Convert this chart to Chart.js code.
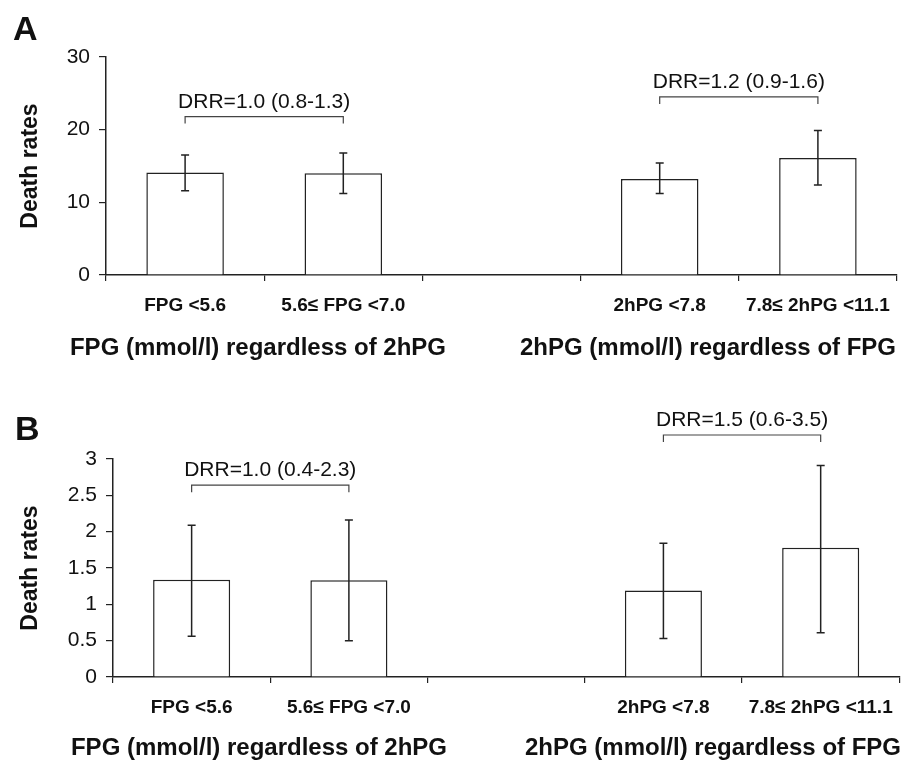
<!DOCTYPE html>
<html>
<head>
<meta charset="utf-8">
<script src="https://cdn.jsdelivr.net/npm/chart.js@4/dist/chart.umd.min.js"></script>
<style>
body { margin: 0; background: #fff; }
canvas { position: absolute; left: 0; }
#chartA { top: 0; }
#chartB { top: 380px; }
</style>
</head>
<body>
<canvas id="chartA" width="906" height="380"></canvas>
<canvas id="chartB" width="906" height="384"></canvas>
<script>
// data
const categories = ['FPG <5.6', '5.6\u2264 FPG <7.0', '', '2hPG <7.8', '7.8\u2264 2hPG <11.1'];
const groupTitles = ['FPG (mmol/l) regardless of 2hPG', '2hPG (mmol/l) regardless of FPG'];

const ratesA = [14.1, 14.0, null, 13.2, 16.1];
const lowerA = [11.6, 11.2, null, 11.2, 12.4];
const upperA = [16.5, 16.8, null, 15.4, 19.9];
const drrA = ['DRR=1.0 (0.8-1.3)', 'DRR=1.2 (0.9-1.6)'];
const bracketA = [21.8, 24.5];

const ratesB = [1.34, 1.33, null, 1.19, 1.78];
const lowerB = [0.56, 0.50, null, 0.53, 0.61];
const upperB = [2.09, 2.16, null, 1.84, 2.91];
const drrB = ['DRR=1.0 (0.4-2.3)', 'DRR=1.5 (0.6-3.5)'];
const bracketB = [2.64, 3.33];

const bracketPairs = [[0, 1], [3, 4]];

const FONT = '"Liberation Sans", Arial, Helvetica, sans-serif';
const INK = '#111';

/* error bars, DRR brackets, group titles, panel letter */
const extras = {
  id: 'extras',
  afterDatasetsDraw(chart, args, opts) {
    const ctx = chart.ctx;
    const y = chart.scales.y;
    const meta = chart.getDatasetMeta(0);
    ctx.save();
    ctx.strokeStyle = '#222';
    ctx.lineWidth = 1.5;
    opts.rates.forEach((v, i) => {
      if (v === null) return;
      const x = meta.data[i].x;
      const yl = y.getPixelForValue(opts.lower[i]);
      const yu = y.getPixelForValue(opts.upper[i]);
      ctx.beginPath();
      ctx.moveTo(x, yl); ctx.lineTo(x, yu);
      ctx.moveTo(x - 4, yl); ctx.lineTo(x + 4, yl);
      ctx.moveTo(x - 4, yu); ctx.lineTo(x + 4, yu);
      ctx.stroke();
    });

    ctx.strokeStyle = '#444';
    ctx.lineWidth = 1.2;
    ctx.fillStyle = INK;
    ctx.font = '21px ' + FONT;
    ctx.textAlign = 'center';
    ctx.textBaseline = 'alphabetic';
    bracketPairs.forEach((p, k) => {
      const x1 = meta.data[p[0]].x;
      const x2 = meta.data[p[1]].x;
      const yb = y.getPixelForValue(opts.brackets[k]);
      ctx.beginPath();
      ctx.moveTo(x1, yb + 7); ctx.lineTo(x1, yb); ctx.lineTo(x2, yb); ctx.lineTo(x2, yb + 7);
      ctx.stroke();
      ctx.fillText(opts.drr[k], (x1 + x2) / 2, yb - 9);
    });

    ctx.font = 'bold 24px ' + FONT;
    ctx.textBaseline = 'middle';
    groupTitles.forEach((t, k) => ctx.fillText(t, opts.groupX[k], opts.groupY));

    ctx.font = 'bold 34px ' + FONT;
    ctx.textAlign = 'left';
    ctx.textBaseline = 'alphabetic';
    ctx.fillText(opts.letter, opts.letterX, opts.letterY);
    ctx.restore();
  }
};

function makePanel(id, rates, lower, upper, yMax, yStep, drr, brackets, lay) {
  return new Chart(document.getElementById(id), {
    type: 'bar',
    data: {
      labels: categories,
      datasets: [{
        data: rates,
        backgroundColor: '#fff',
        borderColor: '#222',
        borderWidth: 1.5,
        borderSkipped: 'bottom',
        categoryPercentage: 1,
        barPercentage: 0.49
      }]
    },
    options: {
      responsive: false,
      animation: false,
      layout: { padding: { left: 0, right: lay.right, top: lay.top, bottom: lay.bottom } },
      plugins: {
        legend: { display: false },
        tooltip: { enabled: false },
        extras: {
          rates: rates, lower: lower, upper: upper, drr: drr, brackets: brackets,
          groupX: lay.groupX, groupY: lay.groupY,
          letter: lay.letter, letterX: lay.letterX, letterY: lay.letterY
        }
      },
      scales: {
        x: {
          afterFit: s => { s.height = 40; },
          grid: { drawOnChartArea: false, drawTicks: true, tickLength: 6, color: '#222', lineWidth: 1.2, offset: true },
          border: { color: '#222', width: 1.5 },
          ticks: { color: INK, font: { family: FONT, size: 19, weight: 'bold' }, padding: 13, maxRotation: 0, autoSkip: false }
        },
        y: {
          min: 0, max: yMax,
          afterFit: s => { s.width = lay.left; },
          grid: { drawOnChartArea: false, drawTicks: true, tickLength: 7, color: '#222', lineWidth: 1.2 },
          border: { color: '#222', width: 1.5 },
          ticks: { stepSize: yStep, color: INK, font: { family: FONT, size: 21 }, padding: 9, callback: v => String(v) },
          title: { display: true, text: 'Death rates', color: INK, font: { family: FONT, size: 23, weight: 'bold' }, padding: { top: 17, bottom: 0 } }
        }
      }
    },
    plugins: [extras]
  });
}

makePanel('chartA', ratesA, lowerA, upperA, 30, 10, drrA, bracketA,
  { left: 106, right: 9, top: 57, bottom: 65, groupX: [258, 708], groupY: 348, letter: 'A', letterX: 13, letterY: 40 });
makePanel('chartB', ratesB, lowerB, upperB, 3, 0.5, drrB, bracketB,
  { left: 113, right: 3, top: 79, bottom: 47, groupX: [259, 713], groupY: 368, letter: 'B', letterX: 15, letterY: 60 });
</script>
</body>
</html>
